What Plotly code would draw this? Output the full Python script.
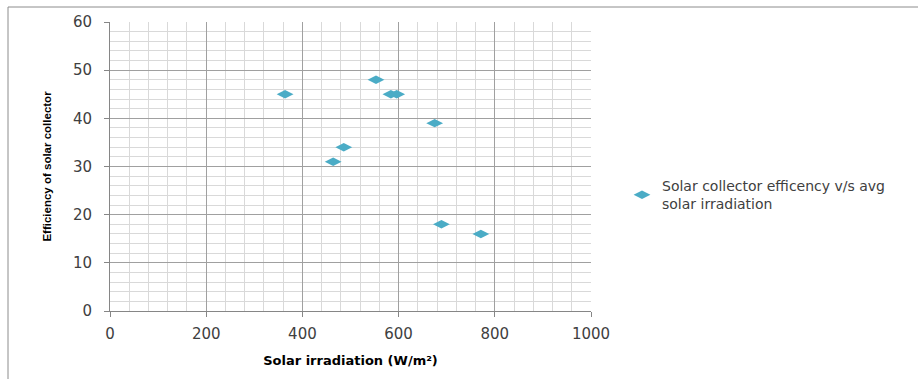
import plotly.graph_objects as go

irradiation = [364, 553, 584, 596, 675, 486, 464, 689, 771]
efficiency = [45, 48, 45, 45, 39, 34, 31, 18, 16]
series_name = "Solar collector efficency v/s avg<br>solar irradiation"
x_ticks = [0, 200, 400, 600, 800, 1000]
y_ticks = [0, 10, 20, 30, 40, 50, 60]

L, R, T, B = 110, 591, 22, 311
W, H = 918, 379
pw, ph = R - L, B - T

fig = go.Figure()
fig.add_trace(go.Scatter(
    x=irradiation, y=efficiency, mode="markers", name=series_name,
    marker=dict(symbol="diamond-wide", size=12, color="#4BACC6",
                line=dict(width=0)),
))

fig.update_layout(
    width=W, height=H,
    margin=dict(l=L, r=W - R, t=T, b=H - B),
    paper_bgcolor="white", plot_bgcolor="white",
    showlegend=True,
    legend=dict(x=(622 - L) / pw, y=(311 - 170) / ph, xanchor="left", yanchor="top",
                font=dict(family="DejaVu Sans", size=14, color="#404040"),
                itemwidth=30, tracegroupgap=0),
    font=dict(family="DejaVu Sans", color="#404040"),
)

fig.update_xaxes(
    range=[0, 1000], tickvals=x_ticks, ticktext=[str(v) for v in x_ticks],
    showgrid=True, gridcolor="#a0a0a0", gridwidth=1,
    minor=dict(dtick=40, showgrid=True, gridcolor="#d9d9d9", gridwidth=1, ticks=""),
    showline=True, linecolor="#868686", linewidth=1, mirror=False,
    ticks="outside", ticklen=5, tickcolor="#868686",
    tickfont=dict(family="DejaVu Sans", size=15, color="#404040"),
    ticklabelstandoff=4,
    zeroline=False,
    title=dict(text="<b>Solar irradiation (W/m²)</b>",
               font=dict(family="DejaVu Sans", size=13, color="#000000"), standoff=13),
)
fig.update_yaxes(
    range=[0, 60], tickvals=y_ticks, ticktext=[str(v) for v in y_ticks],
    showgrid=True, gridcolor="#a0a0a0", gridwidth=1,
    minor=dict(dtick=2, showgrid=True, gridcolor="#d9d9d9", gridwidth=1, ticks=""),
    showline=True, linecolor="#868686", linewidth=1,
    ticks="outside", ticklen=5, tickcolor="#868686",
    tickfont=dict(family="DejaVu Sans", size=15, color="#404040"),
    ticklabelstandoff=9,
    zeroline=False,
    title=dict(text="<b>Efficiency of solar collector</b>",
               font=dict(family="Liberation Sans", size=11.5, color="#000000"),
               standoff=18),
)

# outer chart frame (only top and left edges are visible in the reference)
frame = dict(color="#8c8c8c", width=1)
fig.add_shape(type="line", xref="paper", yref="paper",
              x0=(8 - L) / pw, x1=(918 - L) / pw, y0=(B - 7) / ph, y1=(B - 7) / ph,
              line=frame, layer="below")
fig.add_shape(type="line", xref="paper", yref="paper",
              x0=(8 - L) / pw, x1=(8 - L) / pw, y0=(B - 7) / ph, y1=(B - 380) / ph,
              line=frame, layer="below")

fig.write_html("out.html")
